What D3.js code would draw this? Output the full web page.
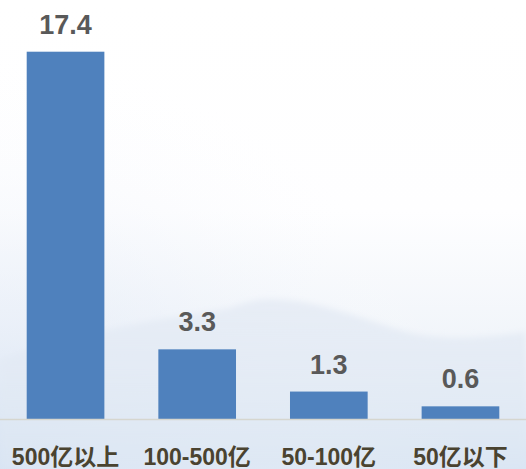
<!DOCTYPE html>
<html>
<head>
<meta charset="utf-8">
<script src="https://cdn.jsdelivr.net/npm/d3@7"></script>
<style>
  html, body { margin: 0; padding: 0; background: #ffffff; }
  svg { display: block; }
</style>
</head>
<body>
<div id="chart"></div>
<script>
// Category labels and values (单位：家)
const categories = ["500亿以上", "100-500亿", "50-100亿", "50亿以下"];
const values = [17.4, 3.3, 1.3, 0.6];

const width = 526, height = 469;
const baseline = 419;

const svg = d3.select("#chart").append("svg")
  .attr("width", width)
  .attr("height", height);

const defs = svg.append("defs");

// Soft sky backdrop: white at the top, pale blue towards the bottom
const sky = defs.append("linearGradient")
  .attr("id", "sky").attr("x1", 0).attr("y1", 0).attr("x2", 0).attr("y2", 1);
sky.append("stop").attr("offset", "0%").attr("stop-color", "#ffffff");
sky.append("stop").attr("offset", "45%").attr("stop-color", "#fefeff");
sky.append("stop").attr("offset", "72%").attr("stop-color", "#f1f5fa");
sky.append("stop").attr("offset", "100%").attr("stop-color", "#d9e5f4");

// Bluish haze creeping in from the lower-left corner
const side = defs.append("radialGradient")
  .attr("id", "side").attr("cx", 0).attr("cy", 1).attr("r", 0.9);
side.append("stop").attr("offset", "0%").attr("stop-color", "#d7e3f3").attr("stop-opacity", 0.8);
side.append("stop").attr("offset", "50%").attr("stop-color", "#e8eef8").attr("stop-opacity", 0.4);
side.append("stop").attr("offset", "100%").attr("stop-color", "#ffffff").attr("stop-opacity", 0);

const hill = defs.append("linearGradient")
  .attr("id", "hill").attr("x1", 0).attr("y1", 0).attr("x2", 0).attr("y2", 1);
hill.append("stop").attr("offset", "0%").attr("stop-color", "#e6ecf5").attr("stop-opacity", 0.9);
hill.append("stop").attr("offset", "100%").attr("stop-color", "#dde7f3").attr("stop-opacity", 0.6);

defs.append("filter").attr("id", "soft")
  .append("feGaussianBlur").attr("stdDeviation", 3);

svg.append("rect").attr("width", width).attr("height", height).attr("fill", "url(#sky)");
svg.append("rect").attr("width", width).attr("height", height).attr("fill", "url(#side)");

// Faint distant ridge behind the bars
svg.append("path")
  .attr("d", "M0,360 C80,330 160,320 230,308 C250,300 265,298 285,300 C320,302 360,318 400,330 C440,342 480,338 526,332 L526,469 L0,469 Z")
  .attr("fill", "url(#hill)")
  .attr("filter", "url(#soft)");

const x = d3.scaleBand()
  .domain(categories)
  .range([26.7, 499.3])
  .paddingInner(0.41)
  .paddingOuter(0);

const y = d3.scaleLinear()
  .domain([0, 17.4])
  .range([baseline, 51.7]);

// Bars
svg.append("g").selectAll("rect")
  .data(values)
  .join("rect")
  .attr("x", (d, i) => x(categories[i]))
  .attr("y", d => y(d))
  .attr("width", x.bandwidth())
  .attr("height", d => baseline - y(d))
  .attr("fill", "#4f81bd");

// Baseline axis
const axis = svg.append("g")
  .attr("transform", `translate(0,${baseline})`)
  .call(d3.axisBottom(x).tickSize(0).tickPadding(0));
axis.select(".domain").remove();
axis.selectAll("text").remove();
axis.append("line")
  .attr("x1", 0).attr("x2", width)
  .attr("y1", 0.5).attr("y2", 0.5)
  .attr("stroke", "#d6d6cf").attr("stroke-width", 1.5);

// Category labels
svg.append("g").selectAll("text")
  .data(categories)
  .join("text")
  .attr("x", d => x(d) + x.bandwidth() / 2)
  .attr("y", 465)
  .attr("text-anchor", "middle")
  .attr("font-family", "'Liberation Sans', 'Noto Sans CJK SC', sans-serif")
  .attr("font-weight", "bold")
  .attr("font-size", 23)
  .attr("fill", "#4a4330")
  .text(d => d);

// Value labels above bars
svg.append("g").selectAll("text")
  .data(values)
  .join("text")
  .attr("x", (d, i) => x(categories[i]) + x.bandwidth() / 2)
  .attr("y", d => y(d) - 18)
  .attr("text-anchor", "middle")
  .attr("font-family", "'Liberation Sans', Arial, sans-serif")
  .attr("font-weight", "bold")
  .attr("font-size", 27)
  .attr("fill", "#595959")
  .text(d => d.toFixed(1));
</script>
</body>
</html>
